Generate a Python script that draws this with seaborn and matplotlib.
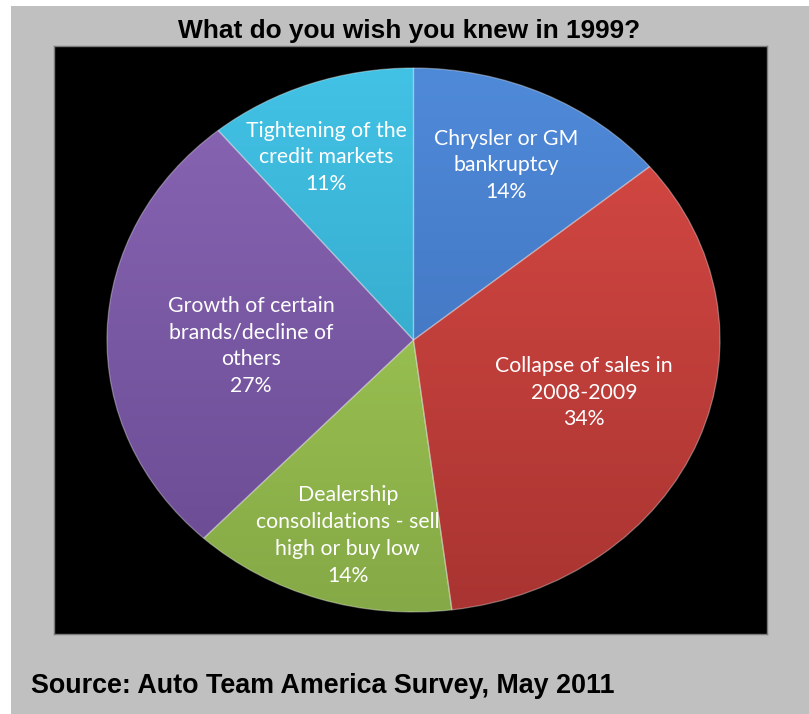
import numpy as np
import matplotlib
matplotlib.use("Agg")
import matplotlib.pyplot as plt
import seaborn as sns
from matplotlib.colors import to_rgb
from matplotlib.patches import Rectangle

# Survey answers, clockwise from twelve o'clock
categories = [
    "Chrysler or GM\nbankruptcy",
    "Collapse of sales in\n2008-2009",
    "Dealership\nconsolidations - sell\nhigh or buy low",
    "Growth of certain\nbrands/decline of\nothers",
    "Tightening of the\ncredit markets",
]
shares = [14, 34, 14, 27, 11]

# Slice shading: lighter at the top of the pie, darker toward the bottom
top_colors = ["#4f8ad9", "#d94a45", "#a9d35a", "#8a66b5", "#42c2e5"]
bottom_colors = ["#3a69b2", "#a93431", "#85a946", "#684a91", "#2d9abb"]
# Label placement: distance from centre and angular nudge from the slice middle
label_dist = [0.71, 0.59, 0.75, 0.53, 0.73]
label_nudge = [0.0, 2.4, 1.4, 4.2, 3.2]

sns.set_theme(style="white")
plt.rcParams["font.family"] = ["DejaVu Sans"]

W, H = 809, 714
fig = plt.figure(figsize=(W / 100, H / 100), dpi=100)
fig.patch.set_facecolor("white")
fig.add_artist(Rectangle((11 / W, 0), 1 - 11 / W, (H - 6) / H,
                         transform=fig.transFigure, facecolor="#c0c0c0",
                         edgecolor="none", zorder=0))

# Black chart panel
px0, py0, px1, py1 = 54, 46, 767, 634
ax = fig.add_axes([px0 / W, (H - py1) / H, (px1 - px0) / W, (py1 - py0) / H])

wedges, _ = ax.pie(shares, startangle=90, counterclock=False, radius=1.0,
                   wedgeprops=dict(linewidth=0.9, edgecolor=(1, 1, 1, 0.35),
                                   facecolor="none"))

# Elliptical pie: stretched horizontally inside the panel
cx, cy, rx, ry = 413.5, 340.0, 306.5, 272.0
ax.set_aspect("auto")
ax.set_frame_on(True)
ax.set_facecolor("black")
ax.set_xticks([])
ax.set_yticks([])
for s in ax.spines.values():
    s.set_visible(True)
    s.set_edgecolor("#7a7a7a")
    s.set_linewidth(1.0)

n = 256
t = np.linspace(0, 1, n)[:, None]
for w, c_top, c_bot in zip(wedges, top_colors, bottom_colors):
    a = np.array(to_rgb(c_top))
    b = np.array(to_rgb(c_bot))
    grad = (a[None, None, :] * (1 - t[:, :, None]) + b[None, None, :] * t[:, :, None])
    im = ax.imshow(grad, extent=(-1, 1, -1, 1), origin="upper", aspect="auto",
                   interpolation="bilinear", zorder=1)
    im.set_clip_path(w)
    w.set_zorder(2)

ax.set_xlim(-(cx - px0) / rx, (px1 - cx) / rx)
ax.set_ylim(-(py1 - cy) / ry, (cy - py0) / ry)

for w, lab, val, d, nud in zip(wedges, categories, shares, label_dist, label_nudge):
    mid = np.deg2rad((w.theta1 + w.theta2) / 2 + nud)
    ax.text(d * np.cos(mid), d * np.sin(mid), f"{lab}\n{val}%",
            ha="center", va="center", color="white", fontsize=15.3,
            family=["Lato", "DejaVu Sans"], linespacing=1.42, zorder=3)

fig.text(409 / W, 1 - 31 / H, "What do you wish you knew in 1999?",
         ha="center", va="center", fontsize=18.9, fontweight="bold",
         family=["Liberation Sans", "DejaVu Sans"], color="black")
fig.text(31 / W, 1 - 686 / H, "Source: Auto Team America Survey, May 2011",
         ha="left", va="center", fontsize=19.4, fontweight="bold",
         family=["Liberation Sans", "DejaVu Sans"], color="black")

fig.savefig("out.png", dpi=100, facecolor=fig.get_facecolor())
